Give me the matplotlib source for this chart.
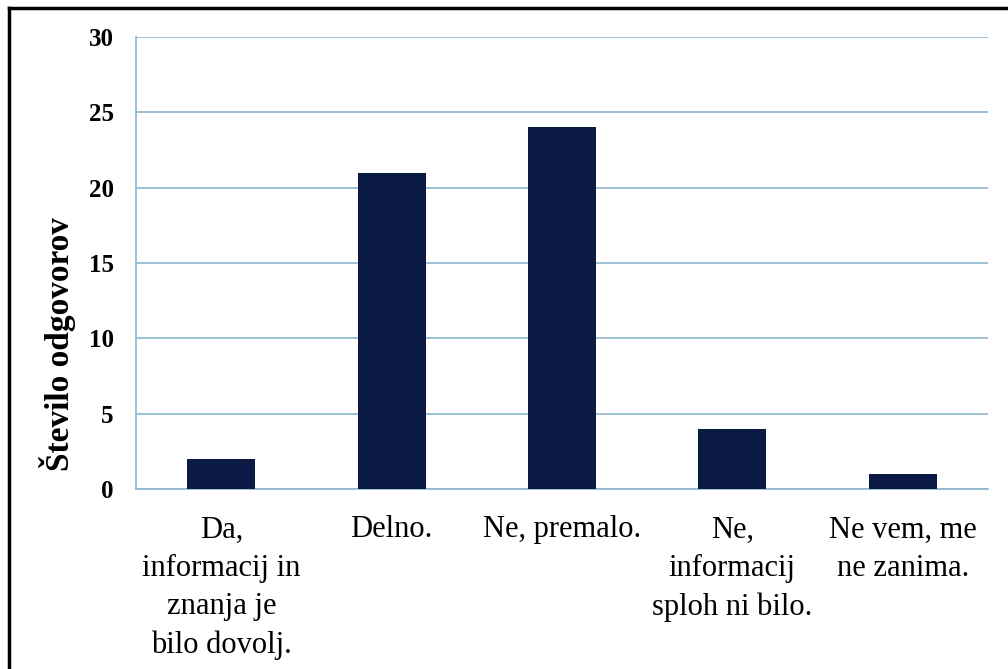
import matplotlib.pyplot as plt
from matplotlib.lines import Line2D

# answers to the survey question
categories = ['Da,\ninformacij in\nznanja je\nbilo dovolj.', 'Delno.', 'Ne, premalo.',
              'Ne,\ninformacij\nsploh ni bilo.', 'Ne vem, me\nne zanima.']
counts = [2, 21, 24, 4, 1]
yticks = [0, 5, 10, 15, 20, 25, 30]

plt.rcParams['font.family'] = ['Liberation Serif', 'DejaVu Serif']

fig = plt.figure(figsize=(10.08, 6.69), dpi=100)
ax = fig.add_axes([0.135, 0.269, 0.845, 0.6758])

grid_col = '#8db6cf'
ax.bar(range(len(counts)), counts, width=0.4, color='#0b1a45', zorder=3)
ax.set_xlim(-0.5, len(counts) - 0.5)
ax.set_ylim(0, 30)
ax.set_yticks(yticks)
ax.yaxis.grid(True, color=grid_col, lw=1.2, zorder=0)
ax.set_xticks(range(len(counts)))
ax.set_xticklabels(categories, fontsize=22, linespacing=1.42)
ax.tick_params(axis='x', length=0, pad=19)
ax.tick_params(axis='y', length=0, pad=16, labelsize=18)
for lab in ax.get_yticklabels():
    lab.set_fontweight('bold')
for s in ['top', 'right']:
    ax.spines[s].set_visible(False)
ax.spines['left'].set_color(grid_col)
ax.spines['bottom'].set_color(grid_col)
ax.spines['left'].set_linewidth(1.2)
ax.spines['bottom'].set_linewidth(1.2)
ax.set_ylabel('Število odgovorov', fontsize=24, fontweight='bold')
ax.yaxis.set_label_coords(-0.07, 0.32)

# frame lines of the scanned figure
fig.add_artist(Line2D([0.009, 1.0], [0.988, 0.988], color='black', lw=2.5))
fig.add_artist(Line2D([0.009, 0.009], [0.0, 0.988], color='black', lw=2.5))

fig.savefig('out.png', dpi=100)
